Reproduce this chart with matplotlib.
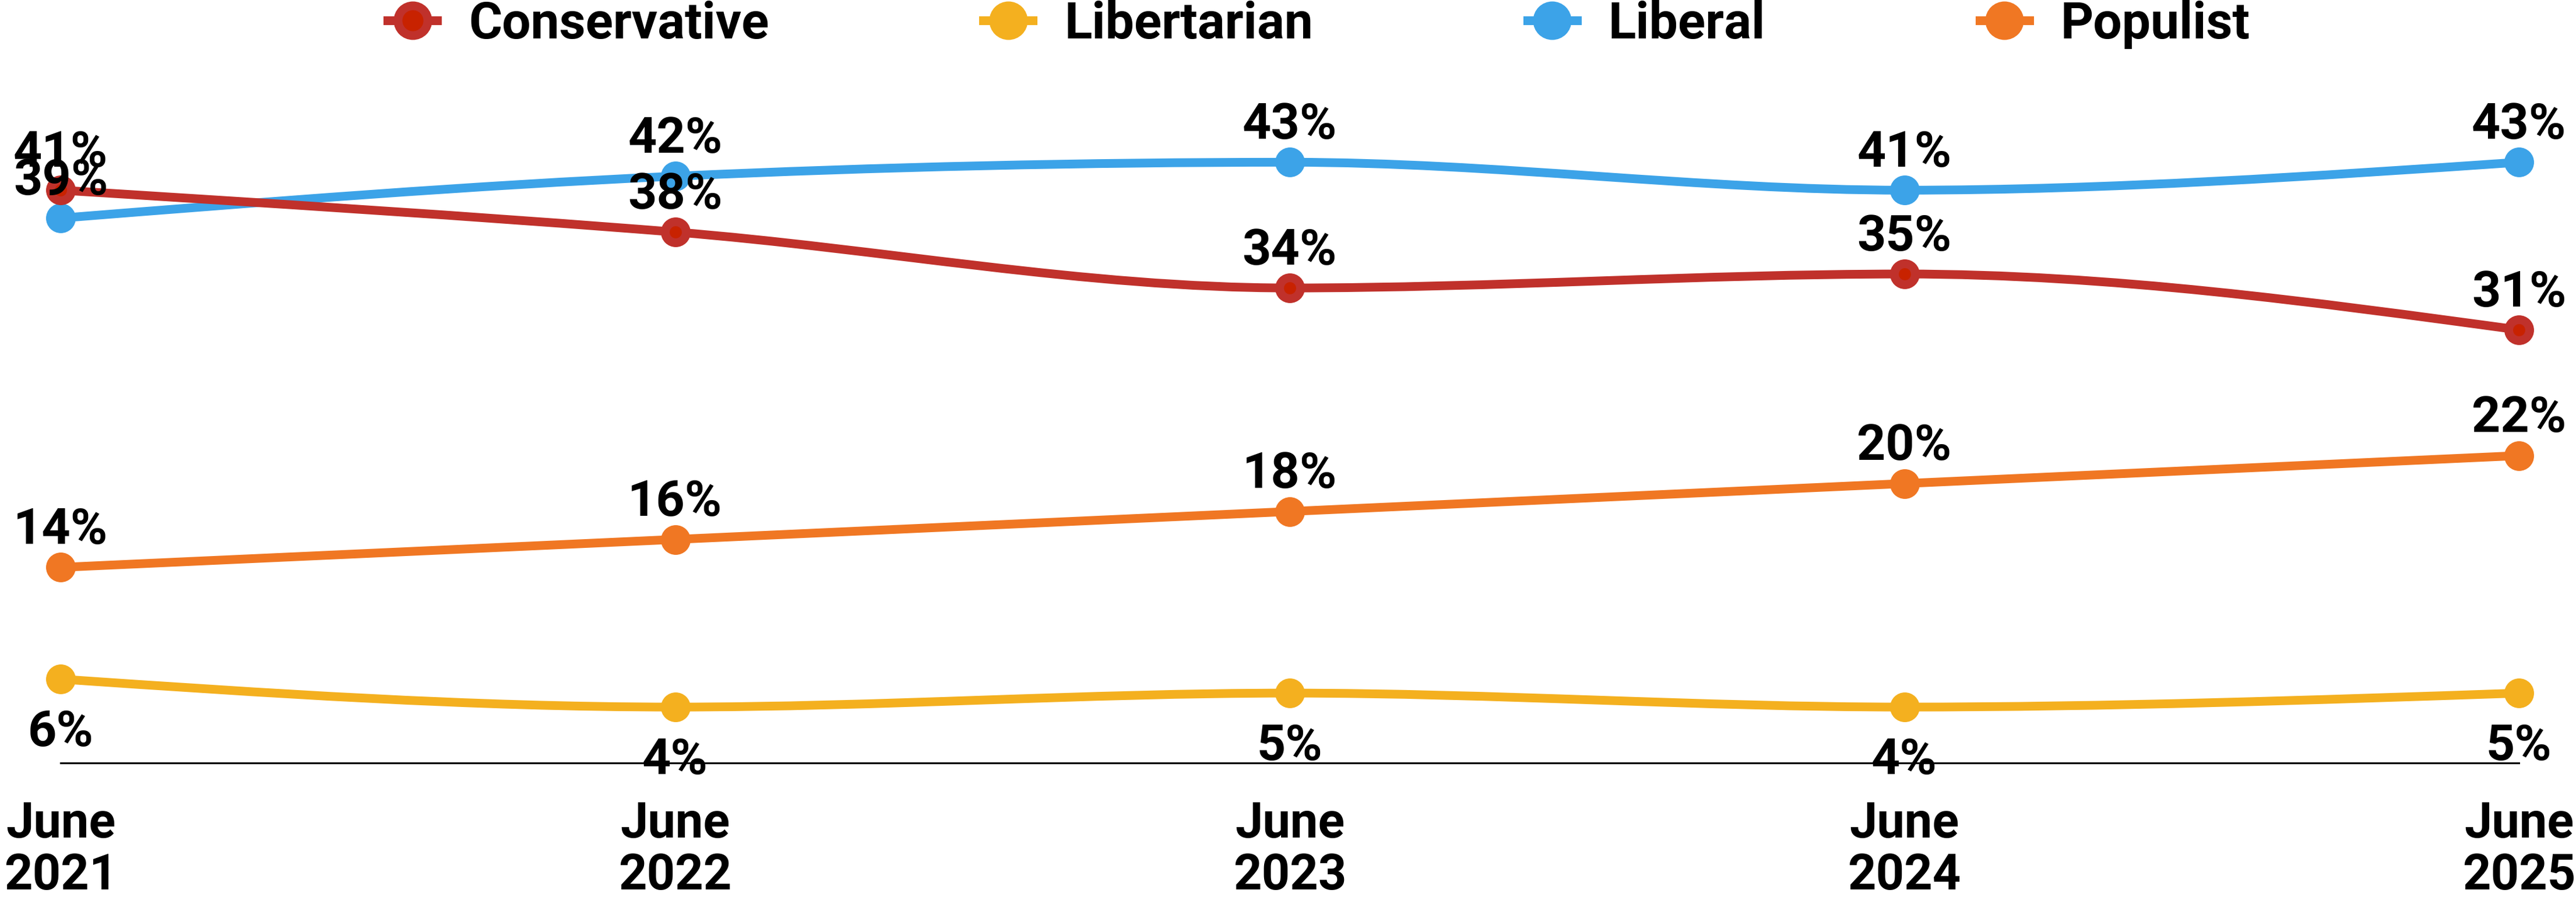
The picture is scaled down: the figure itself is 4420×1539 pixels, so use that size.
import numpy as np
import matplotlib.pyplot as plt
from matplotlib.path import Path
from matplotlib.patches import PathPatch
from matplotlib.lines import Line2D
from matplotlib.legend_handler import HandlerTuple

# data
periods = ["June\n2021", "June\n2022", "June\n2023", "June\n2024", "June\n2025"]
conservative = [41, 38, 34, 35, 31]
libertarian = [6, 4, 5, 4, 5]
liberal = [39, 42, 43, 41, 43]
populist = [14, 16, 18, 20, 22]

names = ["Conservative", "Libertarian", "Liberal", "Populist"]
colors = {"Conservative": "#C0312B", "Libertarian": "#F4B01F",
          "Liberal": "#3CA3E8", "Populist": "#F07723"}
inner_red = "#C82200"

plt.rcParams['font.family'] = ['Roboto', 'DejaVu Sans']
plt.rcParams['font.weight'] = 'bold'


def monotone_path(xs, ys):
    # monotone-x cubic curve through the points, as bezier segments
    x = np.asarray(xs, float)
    y = np.asarray(ys, float)
    h = np.diff(x)
    s = np.diff(y) / h
    m = np.zeros(len(x))
    for i in range(1, len(x) - 1):
        p = (s[i - 1] * h[i] + s[i] * h[i - 1]) / (h[i - 1] + h[i])
        m[i] = (np.sign(s[i - 1]) + np.sign(s[i])) * min(abs(s[i - 1]), abs(s[i]), 0.5 * abs(p))
    m[0] = (3 * s[0] - m[1]) / 2
    m[-1] = (3 * s[-1] - m[-2]) / 2
    verts = [(x[0], y[0])]
    codes = [Path.MOVETO]
    for i in range(len(x) - 1):
        d = h[i] / 3
        verts += [(x[i] + d, y[i] + m[i] * d), (x[i + 1] - d, y[i + 1] - m[i + 1] * d), (x[i + 1], y[i + 1])]
        codes += [Path.CURVE4] * 3
    return Path(verts, codes)


fig = plt.figure(figsize=(44.2, 15.39), dpi=100)
ax = fig.add_axes([0, 230 / 1539, 1, 1 - 230 / 1539])
xs = np.arange(len(periods))
ax.set_xlim(-104 / 1054.5, 4 + 98 / 1054.5)
ax.set_ylim(0, 1308 / 23.95)

series = {"Conservative": conservative, "Libertarian": libertarian,
          "Liberal": liberal, "Populist": populist}
z = {"Conservative": 5, "Libertarian": 3, "Liberal": 4, "Populist": 3}

for name in names:
    vals = series[name]
    c = colors[name]
    ax.add_patch(PathPatch(monotone_path(xs, vals), fill=False, edgecolor=c,
                           lw=10.8, capstyle='round', zorder=z[name]))
    ax.plot(xs, vals, 'o', ms=36.7, color=c, mec='none', zorder=z[name])
    if name == "Conservative":
        ax.plot(xs, vals, 'o', ms=15, color=inner_red, mec='none', zorder=z[name])
    for xi, v in zip(xs, vals):
        if name == "Libertarian":
            off = -83
        else:
            off = 29
        ax.annotate(f"{v}%", (xi, v), xytext=(0, off), textcoords='offset points',
                    ha='center', va='baseline', fontsize=62, fontweight='bold',
                    color='black', zorder=10)

ax.spines[['top', 'left', 'right']].set_visible(False)
ax.spines['bottom'].set_bounds(0, 4)
ax.spines['bottom'].set_linewidth(2.2)
ax.set_yticks([])
ax.set_xticks(xs)
ax.set_xticklabels(periods, fontsize=61, fontweight='bold', linespacing=1.12)
ax.tick_params(axis='x', length=0, pad=46)
ax.patch.set_visible(False)

handles = []
for name in names:
    c = colors[name]
    h = Line2D([], [], color=c, lw=10.8, marker='o', ms=47.5, mec='none')
    if name == "Conservative":
        h = (h, Line2D([], [], ls='none', marker='o', ms=26, color=inner_red, mec='none'))
    handles.append(h)

fig.legend(handles, names, loc='center', bbox_to_anchor=(0.512, 1 - 42 / 1539), ncol=4,
           frameon=False, handlelength=0.97, handletextpad=0.62,
           columnspacing=4.2, handler_map={tuple: HandlerTuple(ndivide=1)},
           prop={'weight': 'bold', 'size': 63})

fig.savefig("out.png", dpi=100)
